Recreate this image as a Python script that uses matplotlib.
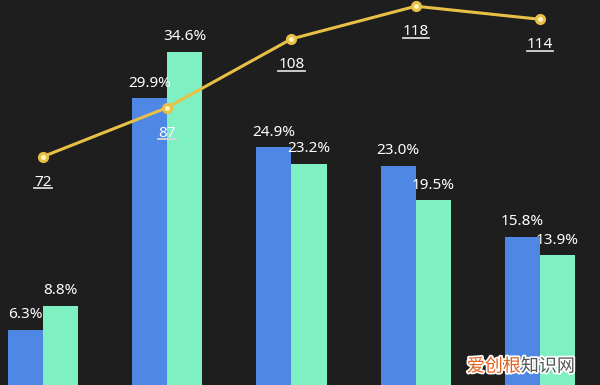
import matplotlib.pyplot as plt
import matplotlib.patheffects as pe
from matplotlib.lines import Line2D
import numpy as np

# data
groups = ["A", "B", "C", "D", "E"]
share_a = [6.3, 29.9, 24.9, 23.0, 15.8]
share_b = [8.8, 34.6, 23.2, 19.5, 13.9]
line_vals = [72, 87, 108, 118, 114]

bg = "#1e1e1e"
blue = "#4f88e4"
green = "#7ff0c1"
yellow = "#e9c046"

plt.rcParams['font.family'] = ['Noto Sans', 'DejaVu Sans']

fig = plt.figure(figsize=(6, 3.85), dpi=100, facecolor=bg)
ax1 = fig.add_axes([0, -7 / 385, 1, 392 / 385])
ax1.set_facecolor(bg)
ax2 = ax1.twinx()

x = np.arange(len(groups))
w = 0.282
b1 = ax1.bar(x - w / 2, share_a, w, color=blue)
b2 = ax1.bar(x + w / 2, share_b, w, color=green)
ax1.set_ylim(0, 39.9)
ax1.set_xlim(-0.346, 4.483)

for rect, v in zip(b1, share_a):
    ax1.annotate(f"{v:.1f}%", (rect.get_x() + rect.get_width() / 2, v),
                 xytext=(0, 5.5), textcoords="offset points", ha="center",
                 va="bottom", color="white", fontsize=11)
for rect, v in zip(b2, share_b):
    ax1.annotate(f"{v:.1f}%", (rect.get_x() + rect.get_width() / 2, v),
                 xytext=(0, 5.5), textcoords="offset points", ha="center",
                 va="bottom", color="white", fontsize=11)

ax2.plot(x, line_vals, color=yellow, lw=2.2, marker="o", ms=7,
         markerfacecolor=yellow, markeredgecolor=yellow, zorder=5)
ax2.plot(x, line_vals, ls="none", marker="o", ms=2.5, color="#fff3c0", zorder=6)
ax2.set_ylim(0, 119.9)

line_texts = []
for xi, v in zip(x, line_vals):
    t = ax2.annotate(str(v), (xi, v), xytext=(0, -18.5), textcoords="offset points",
                     ha="center", va="center", color="white", fontsize=11, zorder=7)
    line_texts.append(t)

for a in (ax1, ax2):
    a.set_xticks([])
    a.set_yticks([])
    for s in a.spines.values():
        s.set_visible(False)

# underline the line labels
fig.canvas.draw()
r = fig.canvas.get_renderer()
inv = fig.transFigure.inverted()
for t in line_texts:
    bb = t.get_window_extent(r)
    (x0, y0), (x1, _) = inv.transform([(bb.x0, bb.y0 + 1.5), (bb.x1, bb.y0 + 1.5)])
    fig.add_artist(Line2D([x0, x1], [y0, y0], color="#d8d8d8", lw=1.3))

# watermark
wm = [pe.withStroke(linewidth=2.5, foreground="white")]
fig.text(0.778, 0.035, "爱创根", color="#e2621e", fontsize=13,
         family=['Noto Sans CJK SC'], path_effects=wm)
fig.text(0.868, 0.035, "知识网", color="#555555", fontsize=13,
         family=['Noto Sans CJK SC'], path_effects=wm)

fig.savefig("out.png", dpi=100, facecolor=bg)
